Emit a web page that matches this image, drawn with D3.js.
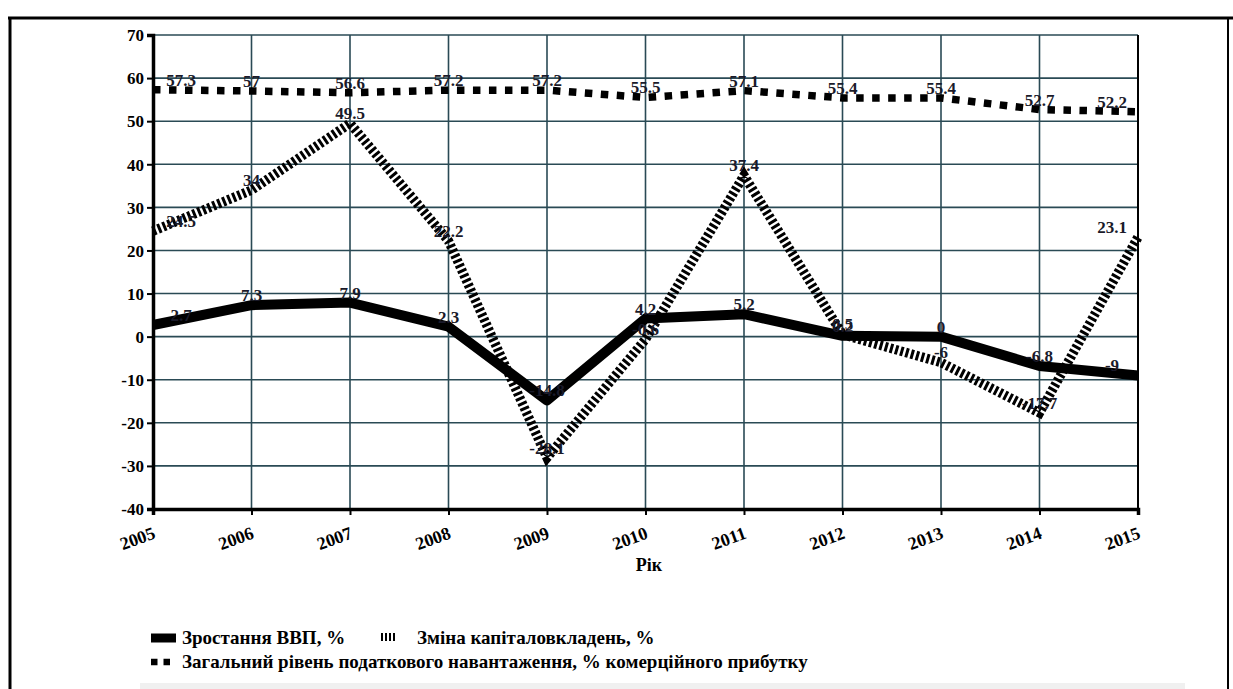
<!DOCTYPE html>
<html><head><meta charset="utf-8">
<script src="https://cdn.jsdelivr.net/npm/d3@7"></script>
<style>body{margin:0;background:#fff}svg{display:block}</style>
</head><body><svg id="c" width="1233" height="689"></svg>
<script>
const years = [2005,2006,2007,2008,2009,2010,2011,2012,2013,2014,2015];
const gdp = [2.7,7.3,7.9,2.3,-14.8,4.2,5.2,0.2,0,-6.8,-9];
const capital = [24.5,34,49.5,22.2,-28.1,-0.6,37.4,0.5,-6,-17.7,23.1];
const tax = [57.3,57,56.6,57.2,57.2,55.5,57.1,55.4,55.4,52.7,52.2];
const yTicks = [-40,-30,-20,-10,0,10,20,30,40,50,60,70];
const seriesNames = ["Зростання ВВП, %","Зміна капіталовкладень, %","Загальний рівень податкового навантаження, % комерційного прибутку"];
const xTitle = "Рік";

const svg = d3.select("#c");
const F = "Liberation Serif, DejaVu Serif, serif";
const x0 = 153, x1 = 1138, yTop = 35, yBot = 509;
const x = d3.scaleLinear().domain([2005,2015]).range([x0,x1]);
const y = d3.scaleLinear().domain([-40,70]).range([yBot,yTop]);

// outer frame
svg.append("line").attr("x1",8).attr("x2",1233).attr("y1",18).attr("y2",18).attr("stroke","#000").attr("stroke-width",3);
svg.append("line").attr("x1",10).attr("x2",10).attr("y1",17).attr("y2",689).attr("stroke","#000").attr("stroke-width",3);
svg.append("line").attr("x1",1228).attr("x2",1228).attr("y1",17).attr("y2",689).attr("stroke","#000").attr("stroke-width",2);
svg.append("rect").attr("x",140).attr("y",683).attr("width",1045).attr("height",6).attr("fill","#f0f0f0");

// grid
const grid = svg.append("g");
grid.selectAll("line.h").data(yTicks).join("line").attr("class","h")
  .attr("x1",x0).attr("x2",x1).attr("y1",d=>y(d)).attr("y2",d=>y(d))
  .attr("stroke","#2a4a55").attr("stroke-width",1.6);
grid.selectAll("line.v").data(years).join("line").attr("class","v")
  .attr("x1",d=>x(d)).attr("x2",d=>x(d)).attr("y1",yTop).attr("y2",yBot)
  .attr("stroke","#2a4a55").attr("stroke-width",1.6);
svg.append("line").attr("x1",x1).attr("x2",x1).attr("y1",yTop).attr("y2",yBot).attr("stroke","#000").attr("stroke-width",2);

// axes
const yAxis = d3.axisLeft(y).tickValues(yTicks).tickSize(6).tickFormat(d=>String(d));
const gy = svg.append("g").attr("transform",`translate(${x0},0)`).call(yAxis);
gy.select(".domain").attr("stroke","#000").attr("stroke-width",3.5);
gy.selectAll(".tick line").attr("stroke","#000").attr("stroke-width",2);
gy.selectAll(".tick text").attr("font-family",F).attr("font-weight","bold").attr("font-size",17).attr("fill","#000").attr("x",-9).attr("dy","0.34em");

const xAxis = d3.axisBottom(x).tickValues(years).tickSize(6).tickFormat(d=>String(d));
const gx = svg.append("g").attr("transform",`translate(0,${yBot})`).call(xAxis);
gx.select(".domain").attr("stroke","#000").attr("stroke-width",3.5);
gx.selectAll(".tick line").attr("stroke","#000").attr("stroke-width",2);
gx.selectAll(".tick text").attr("font-family",F).attr("font-weight","bold").attr("font-size",18).attr("fill","#000")
  .attr("text-anchor","end").attr("x",0).attr("y",0).attr("dy",0)
  .attr("transform","translate(3,29) rotate(-20)");

svg.append("text").attr("x",649).attr("y",571).attr("text-anchor","middle")
  .attr("font-family",F).attr("font-weight","bold").attr("font-size",18).text(xTitle);

// lines
const line = d3.line().x((d,i)=>x(years[i])).y(d=>y(d));
svg.append("path").datum(capital).attr("d",line).attr("fill","none").attr("stroke","#000")
  .attr("stroke-width",9.5).attr("stroke-dasharray","3,2.4");
svg.append("path").datum(tax).attr("d",line).attr("fill","none").attr("stroke","#000")
  .attr("stroke-width",7.5).attr("stroke-dasharray","7.5,8.5");
svg.append("path").datum(gdp).attr("d",line).attr("fill","none").attr("stroke","#000")
  .attr("stroke-width",10).attr("stroke-linejoin","round");

// labels
function labels(vals){
  svg.append("g").selectAll("text").data(vals).join("text")
    .attr("x",(d,i)=>{const px=x(years[i]); return Math.min(Math.max(px,x0+28),x1-26);})
    .attr("y",d=>y(d)-4).attr("text-anchor","middle")
    .attr("font-family",F).attr("font-weight","bold").attr("font-size",17).attr("fill","#1a1a2a")
    .text(d=>d);
}
labels(tax); labels(capital); labels(gdp);

// legend
const lg = svg.append("g").attr("font-family",F).attr("font-weight","bold").attr("font-size",19);
lg.append("line").attr("x1",151).attr("x2",176).attr("y1",638).attr("y2",638).attr("stroke","#000").attr("stroke-width",9);
lg.append("text").attr("x",182).attr("y",644).text(seriesNames[0]);
lg.append("line").attr("x1",381).attr("x2",397).attr("y1",637).attr("y2",637).attr("stroke","#000").attr("stroke-width",8).attr("stroke-dasharray","2,2");
lg.append("text").attr("x",417).attr("y",644).text(seriesNames[1]);
lg.append("line").attr("x1",151).attr("x2",170).attr("y1",662).attr("y2",662).attr("stroke","#000").attr("stroke-width",6.5).attr("stroke-dasharray","6.5,6");
lg.append("text").attr("x",182).attr("y",668).text(seriesNames[2]);
</script></body></html>
